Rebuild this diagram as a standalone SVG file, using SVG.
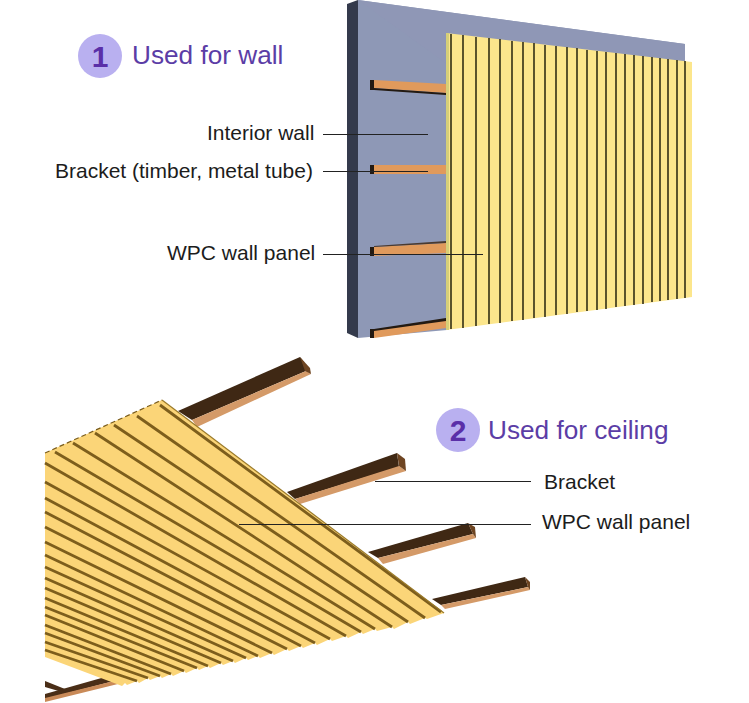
<svg xmlns="http://www.w3.org/2000/svg" width="749" height="703" viewBox="0 0 749 703">
<style>
.label{font-family:"Liberation Sans",Arial,sans-serif;font-size:21px;fill:#1c1c1c}
.title{font-family:"Liberation Sans",Arial,sans-serif;font-size:26.2px;fill:#5b3da6}
.num{font-family:"Liberation Sans",Arial,sans-serif;font-size:30px;font-weight:bold;fill:#5a2fa8;text-anchor:middle}
.badge{fill:#b9b0f0}
.leader{stroke:#222222;stroke-width:1;fill:none}
.org{fill:#e09a5c}
.dk{fill:#231a12}
.brn{fill:#3f2814}
.orb{fill:#d49a68}
.end{fill:#6e4522}
</style>
<rect width="749" height="703" fill="#ffffff"/>
<g id="wall">
<polygon points="347,4 358,0 358,338 347,333" fill="#343a4c"/>
<polygon points="358,0 685,44 685,70 447,330 358,338" fill="#8e98b6"/>
<polygon points="358,0 685,44 685,64 447,64" fill="#8f97b6"/>
</g>
<g id="wall-brackets">
<polygon points="374,80 446,84 446,93 374,88" class="org"/>
<polygon points="374,88 446,93 446,95 374,90" class="dk"/>
<rect x="370" y="80" width="4" height="10" class="dk"/>
<polygon points="374,165 446,165 446,174 374,174" class="org"/>
<rect x="370" y="165" width="4" height="9" class="dk"/>
<polygon points="374,247 446,243 446,253 374,256" class="org"/>
<polygon points="374,246 446,241 446,243 374,247" fill="#4a3a30"/>
<rect x="370" y="247" width="4" height="9" class="dk"/>
<polygon points="374,330 446,320 446,328 374,338" class="org"/>
<polygon points="374,329 446,318 446,321 374,331" class="dk"/>
<rect x="370" y="329" width="4" height="9" class="dk"/>
</g>
<g id="wall-panel">
<polygon points="446,33 692,62 692,297 446,330" fill="#fce68c"/>
<polygon points="446,33 449,33 449,330 446,330" fill="#d6cf78"/>
<path d="M451 34V329M463 35V328M476 37V326M489 38V324M500 39V323M512 41V321M523 42V320M534 43V318M545 45V317M556 46V315M567 47V314M577 48V312M587 50V311M597 51V310M606 52V309M616 53V307M625 54V306M634 55V305M643 56V304M652 57V302M660 58V301M668 59V300M677 60V299M685 61V298" stroke="#3f3a1c" stroke-width="1.7" fill="none"/>
</g>
<g id="ceiling-brackets">
<polygon points="178,411 300,357 304,362 306,371 192,420" class="brn"/>
<polygon points="192,420 306,371 311,374 197,427" class="orb"/>
<polygon points="300,357 310,368 311,374 305,371" class="end"/>
<polygon points="287,492 397,453 399,467 295,499" class="brn"/>
<polygon points="295,499 399,466 406,471 300,504" class="orb"/>
<polygon points="397,453 405,459 406,471 399,466" class="end"/>
<polygon points="368,552 468,523 473,534 378,558" class="brn"/>
<polygon points="378,558 473,534 476,538 383,564" class="orb"/>
<polygon points="468,523 475,527 476,538 473,534" class="end"/>
<polygon points="432,599 525,577 528,587 441,605" class="brn"/>
<polygon points="441,605 528,587 530,590 445,609" class="orb"/>
<polygon points="525,577 530,582 530,590 528,587" class="end"/>
<polygon points="45,681 65,689 62,692 45,687" fill="#4a2e17"/>
<polygon points="45,694 105,677 118,680 45,699" fill="#4a2e17"/>
<polygon points="45,698 118,680 122,683 45,702" fill="#c98a58"/>
</g>
<g id="ceiling-panel">
<polygon points="45,453 162,400 444,613 427,619 425,618 410,624 408,622 394,629 392,627 377,631 375,629 363,634 361,632 348,638 346,636 332,641 330,639 317,645 315,643 303,648 301,646 289,651 287,649 274,655 272,653 260,658 258,656 248,660 246,658 235,663 233,661 223,665 221,663 210,668 208,666 199,670 197,668 186,673 184,671 173,676 171,674 162,678 160,676 150,680 148,678 139,683 137,681 127,685 125,683 122,686 45,657" fill="#fbd578"/>
<path d="M160,405L441,612M137,416L425,618M114,425L408,622M95,433L392,627M73,443L375,629M55,452L361,632M45,463L346,636M45,482L330,639M45,498L315,643M45,512L301,646M45,527L287,649M45,542L272,653M45,555L258,656M45,567L246,658M45,578L233,661M45,588L221,663M45,598L208,666M45,607L197,668M45,615L184,671M45,625L171,674M45,633L160,676M45,642L148,678M45,650L137,681" stroke="#7d5e1c" stroke-width="2.8" fill="none"/>
<path d="M162,400L444,613" stroke="#9a7a2a" stroke-width="1.2" fill="none"/>
<path d="M45,453L162,400" stroke="#7a5c1c" stroke-width="1.2" stroke-dasharray="5 3" fill="none"/>
</g>
<g id="connectors">
<path class="leader" d="M323 134.500H428M323 171.500H428M323 254.500H483M375 481.500H531M239 524.500H531"/>
</g>
<g id="badge-1"><circle class="badge" cx="100" cy="56" r="22"/><text class="num" x="100" y="67">1</text></g>
<g id="title-1"><text class="title" x="132" y="64">Used for wall</text></g>
<g id="badge-2"><circle class="badge" cx="458" cy="430" r="22"/><text class="num" x="458" y="441">2</text></g>
<g id="title-2"><text class="title" x="488" y="439">Used for ceiling</text></g>
<g id="label-interior"><text class="label" x="207" y="140">Interior wall</text></g>
<g id="label-bracket"><text class="label" x="55" y="178">Bracket (timber, metal tube)</text></g>
<g id="label-wpc"><text class="label" x="167" y="260">WPC wall panel</text></g>
<g id="label-bracket2"><text class="label" x="544" y="489">Bracket</text></g>
<g id="label-wpc2"><text class="label" x="542" y="529">WPC wall panel</text></g>
</svg>
